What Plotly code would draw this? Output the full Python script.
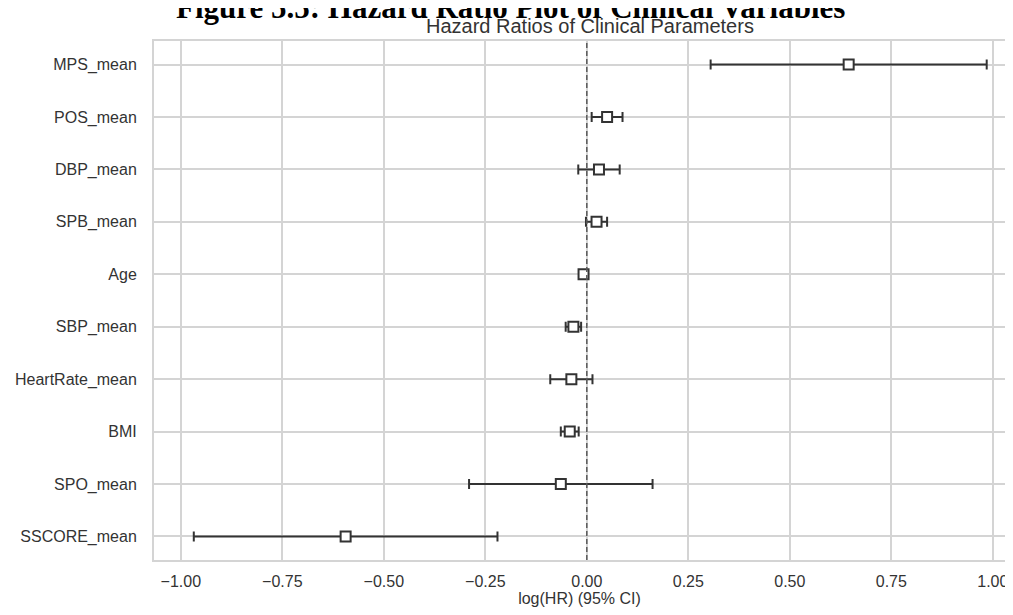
import plotly.graph_objects as go

# Data (top to bottom as shown)
variables = ["MPS_mean", "POS_mean", "DBP_mean", "SPB_mean", "Age", "SBP_mean",
             "HeartRate_mean", "BMI", "SPO_mean", "SSCORE_mean"]
log_hr = [0.645, 0.050, 0.030, 0.024, -0.008, -0.033, -0.038, -0.042, -0.064, -0.594]
ci_lower = [0.305, 0.012, -0.021, -0.002, -0.013, -0.052, -0.090, -0.064, -0.290, -0.968]
ci_upper = [0.985, 0.088, 0.081, 0.050, -0.003, -0.014, 0.014, -0.020, 0.162, -0.220]
x_ticks = [-1.00, -0.75, -0.50, -0.25, 0.00, 0.25, 0.50, 0.75, 1.00]
x_tick_labels = ["\u22121.00", "\u22120.75", "\u22120.50", "\u22120.25", "0.00", "0.25", "0.50", "0.75", "1.00"]

err_plus = [u - h for u, h in zip(ci_upper, log_hr)]
err_minus = [h - l for h, l in zip(log_hr, ci_lower)]

# figure sized to fit inside the page body (8px default margin on each side)
W, H = 997, 599
ML, MR, MT, MB = 146, 0, 33, 47
PW, PH = W - ML - MR, H - MT - MB

FONT = "Liberation Sans, Arial, sans-serif"
GRID = "#d4d4d4"

fig = go.Figure()
fig.add_trace(go.Scatter(
    x=log_hr, y=variables, mode="markers",
    marker=dict(symbol="square", size=10, color="white",
                line=dict(color="#333333", width=2)),
    error_x=dict(type="data", symmetric=False, array=err_plus, arrayminus=err_minus,
                 color="#333333", thickness=2, width=5),
    showlegend=False,
))

fig.add_vline(x=0, line=dict(color="#5a5a5a", width=1.5, dash="5px,3px"))

fig.update_layout(
    width=W, height=H,
    margin=dict(l=ML, r=MR, t=MT, b=MB, pad=0, autoexpand=False),
    paper_bgcolor="white", plot_bgcolor="white",
    font=dict(family=FONT, size=16, color="#333333"),
    xaxis=dict(
        range=[-1.066, -1.066 + PW / 406.0],
        tickmode="array", tickvals=x_ticks, ticktext=x_tick_labels,
        showgrid=True, gridcolor=GRID, gridwidth=1.5,
        zeroline=False, showline=True, linecolor=GRID, linewidth=2, mirror=True,
        ticks="", ticklabelstandoff=6, automargin=False, ticklabeloverflow="allow",
        title=dict(text="log(HR) (95% CI)", font=dict(size=16, color="#333333"), standoff=15),
    ),
    yaxis=dict(
        type="category", categoryorder="array", categoryarray=variables,
        range=[9.45, -0.45],
        showgrid=True, gridcolor=GRID, gridwidth=1.5,
        zeroline=False, showline=True, linecolor=GRID, linewidth=2,
        ticks="", ticklabelstandoff=12, automargin=False,
    ),
)

# axes title
fig.add_annotation(
    text="Hazard Ratios of Clinical Parameters", xref="paper", yref="paper",
    x=(582 - ML) / PW, y=1 + 2 / PH, xanchor="center", yanchor="bottom",
    showarrow=False, font=dict(family=FONT, size=20, color="#333333"),
)
# page heading, cut off at the top
fig.add_annotation(
    text="<b>Figure 5.5: Hazard Ratio Plot of Clinical Variables</b>", xref="paper", yref="paper",
    x=(502 - ML) / PW, y=1 + 14 / PH, xanchor="center", yanchor="bottom",
    showarrow=False, font=dict(family="Liberation Serif, Times New Roman, serif", size=31, color="black"),
)

fig.write_html("out.html")
